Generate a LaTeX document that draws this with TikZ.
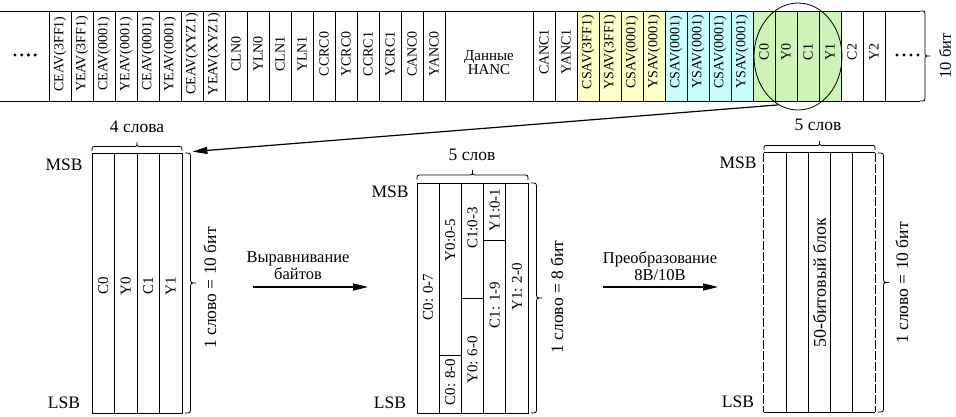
\documentclass[tikz,border=0pt]{standalone}
\usepackage{fontspec}
\setmainfont{Liberation Serif}
\usetikzlibrary{arrows.meta,shapes.geometric}
\definecolor{cyel}{RGB}{255,255,200}
\definecolor{ccyan}{RGB}{200,255,255}
\definecolor{cgreen}{RGB}{206,242,184}
% horizontal brace: x1, x2, y (end level), r ; tip towards smaller y (up on page)
\newcommand{\mybraceh}[4]{%
  \draw[brc] (#1,#3) .. controls (#1,#3-#4) .. (#1+#4,#3-#4)
    -- ({(#1+#2)/2-#4},#3-#4) .. controls ({(#1+#2)/2},#3-#4) .. ({(#1+#2)/2},#3-2*#4)
    .. controls ({(#1+#2)/2},#3-#4) .. ({(#1+#2)/2+#4},#3-#4)
    -- (#2-#4,#3-#4) .. controls (#2,#3-#4) .. (#2,#3);}
% vertical brace: y1, y2, x (end level), r ; tip towards larger x
\newcommand{\mybracev}[4]{%
  \draw[brc] (#3,#1) .. controls (#3+#4,#1) .. (#3+#4,#1+#4)
    -- (#3+#4,{(#1+#2)/2-#4}) .. controls (#3+#4,{(#1+#2)/2}) .. (#3+2*#4,{(#1+#2)/2})
    .. controls (#3+#4,{(#1+#2)/2}) .. (#3+#4,{(#1+#2)/2+#4})
    -- (#3+#4,#2-#4) .. controls (#3+#4,#2) .. (#3,#2);}
\begin{document}
\begin{tikzpicture}[x=1pt,y=-1pt,
  every node/.style={inner sep=0pt},
  cell/.style={draw, line width=0.7pt, minimum width=22pt, minimum height=90pt},
  vlab/.style={rotate=90, font=\fontsize{14}{14}\selectfont},
  blab/.style={rotate=90, font=\fontsize{15}{15}\selectfont},
  lab/.style={font=\fontsize{17.5}{18}\selectfont, align=center},
  alab/.style={font=\fontsize{16.5}{17}\selectfont, align=center},
  brc/.style={line width=0.8pt},
  arr/.style={-{Triangle[length=15pt,width=7pt]}, line width=1.2pt},
  thin/.style={line width=0.8pt},
  dotc/.style={circle, fill=black, minimum size=3.4pt}]
\useasboundingbox (0,0) rectangle (956,417);

% ---------- top band ----------
\coordinate (tl) at (0,11);
\coordinate (tr) at (920,11);
\coordinate (bl) at (0,101);
\coordinate (br) at (920,101);
\draw[thin] (tl) -- (tr);
\draw[thin] (bl) -- (br);
\foreach \i/\t in {0/CEAV(3FF1),1/YEAV(3FF1),2/CEAV(0001),3/YEAV(0001),4/CEAV(0001),5/YEAV(0001),6/CEAV(XYZ1),7/YEAV(XYZ1),8/CLN0,9/YLN0,10/CLN1,11/YLN1,12/CCRC0,13/YCRC0,14/CCRC1,15/YCRC1,16/CANC0,17/YANC0}{
  \node[cell] (a\i) at (60+22*\i,56) {};
  \node[vlab] (at\i) at (60+22*\i,54) {\t};
}
\node[cell, minimum width=88pt] (hanc) at (489,56) {};
\node[alab, font=\fontsize{15}{14}\selectfont] (hanct) at (489,63) {Данные\\HANC};
\foreach \i/\t/\f in {0/CANC1/white,1/YANC1/white,2/CSAV(3FF1)/cyel,3/YSAV(3FF1)/cyel,4/CSAV(0001)/cyel,5/YSAV(0001)/cyel,6/CSAV(0001)/ccyan,7/YSAV(0001)/ccyan,8/CSAV(0001)/ccyan,9/YSAV(0001)/ccyan,10/C0/cgreen,11/Y0/cgreen,12/C1/cgreen,13/Y1/cgreen,14/C2/white,15/Y2/white}{
  \node[cell, fill=\f] (b\i) at (544+22*\i,56) {};
  \node[vlab] (bt\i) at (544+22*\i,52) {\t};
}
\foreach \k/\x in {1/15,2/21.7,3/28.4,4/35.1}{\node[dotc] (ld\k) at (\x,55) {};}
\foreach \k/\x in {1/897,2/904,3/911,4/918}{\node[dotc] (rd\k) at (\x,55) {};}
\mybracev{11}{101}{920}{5}
\node[lab, rotate=90, font=\fontsize{16.5}{17}\selectfont] (tenbit) at (945,56) {10 бит};

% ellipse
\node[draw, ellipse, minimum width=88pt, minimum height=107pt, line width=0.8pt] (ell) at (798,56.5) {};

% ---------- block A ----------
\node[draw, thin, minimum width=90pt, minimum height=260pt] (A) at (137,283) {};
\foreach \x in {114.5,137,159.5}{\draw[thin] (\x,153) -- (\x,413);}
\foreach \x/\t in {103.25/C0,125.75/Y0,148.25/C1,170.75/Y1}{\node[blab] at (\x,286) {\t};}
\node[lab] (msbA) at (64,165) {MSB};
\node[lab] (lsbA) at (64,403) {LSB};
\mybraceh{92}{182}{151}{4.5}
\node[lab] (wA) at (137,127) {4 слова};
\mybracev{153}{413}{185}{5.5}
\node[lab, rotate=90] (bitA) at (210,288) {1 слово = 10 бит};
\coordinate (tA) at ([xshift=10pt,yshift=1pt]A.north east);
\draw[arr] (ell.248) -- (tA);

% ---------- arrow 1 ----------
\node[alab] (t1) at (298,266) {Выравнивание\\байтов};
\coordinate (s1) at (253,287);
\coordinate (e1) at (368,287);
\draw[arr] (s1) -- (e1);

% ---------- block B ----------
\node[draw, thin, minimum width=111pt, minimum height=230pt] (B) at (472.5,298) {};
\foreach \x in {439.2,461.4,483.6,505.8}{\draw[thin] (\x,183) -- (\x,413);}
\draw[thin] (439.2,355.5) -- (461.4,355.5);
\draw[thin] (461.4,298) -- (483.6,298);
\draw[thin] (483.6,240.5) -- (505.8,240.5);
\node[blab] at (428.1,297) {C0: 0-7};
\node[blab] at (450.3,240) {Y0:0-5};
\node[blab] at (450.3,382) {C0: 8-0};
\node[blab] at (472.5,228) {C1:0-3};
\node[blab] at (472.5,360) {Y0: 6-0};
\node[blab] at (494.7,210) {Y1:0-1};
\node[blab] at (494.7,305) {C1: 1-9};
\node[blab] at (516.9,287) {Y1: 2-0};
\node[lab] (msbB) at (390,192) {MSB};
\node[lab] (lsbB) at (390,403) {LSB};
\mybraceh{417}{528}{180}{5}
\node[lab] (wB) at (472,155) {5 слов};
\mybracev{183}{413}{531}{5.5}
\node[lab, rotate=90] (bitB) at (557,297) {1 слово = 8 бит};

% ---------- arrow 2 ----------
\node[alab] (t2) at (660,266) {Преобразование\\8B/10B};
\coordinate (s2) at (603,287);
\coordinate (e2) at (718,287);
\draw[arr] (s2) -- (e2);

% ---------- block C ----------
\node[minimum width=111pt, minimum height=259pt] (C) at (819.5,282.5) {};
\draw[thin] (C.north west) -- (C.north east);
\draw[thin] (C.south west) -- (C.south east);
\draw[line width=1.1pt, dash pattern=on 9pt off 2pt] (C.north west) -- (C.south west);
\draw[line width=1.1pt, dash pattern=on 9pt off 2pt] (C.north east) -- (C.south east);
\foreach \x in {786.2,808.4,830.6,852.8}{\draw[thin] (\x,153) -- (\x,412);}
\node[blab, font=\fontsize{18}{18}\selectfont] (fifty) at (819.5,283) {50-битовый блок};
\node[lab] (msbC) at (738,163) {MSB};
\node[lab] (lsbC) at (738,402) {LSB};
\mybraceh{764}{875}{150}{4.5}
\node[lab] (wC) at (818,125) {5 слов};
\mybracev{153}{412}{878}{5.5}
\node[lab, rotate=90] (bitC) at (902,283) {1 слово = 10 бит};
\end{tikzpicture}
\end{document}
